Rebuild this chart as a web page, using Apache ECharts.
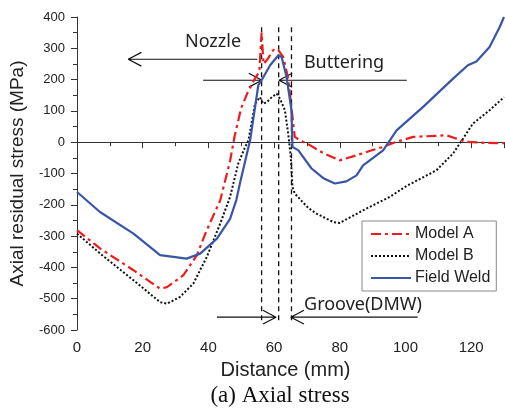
<!DOCTYPE html>
<html><head><meta charset="utf-8">
<script src="https://cdn.jsdelivr.net/npm/echarts@6/dist/echarts.min.js"></script>
<style>html,body{margin:0;padding:0;background:#fff}#c{width:505px;height:414px}</style>
</head><body><div id="c"></div>
<script>
// ---- data ----
const seriesNames = ['Model A', 'Model B', 'Field Weld'];

const modelA_x = [0, 7.1, 17.2, 25.3, 27.4, 32.4, 36.5, 39.5, 43.6, 46.6, 48, 50, 52, 54, 55.5, 56.2, 56.8, 58, 60, 61.3, 62.8, 64.3, 65.3, 66.3, 68, 70, 75, 80, 85, 90, 93.2, 97, 102.3, 112.5, 118.5, 124, 130];
const modelA_y = [-281, -340, -409, -468, -463, -425, -361, -281, -186, -60, 20, 110, 160, 200, 225, 350, 250, 265, 298, 294, 272, 203, 110, 17, 5, -4, -35, -58, -42, -25, -15, 0, 17, 22, 1, -2, -3];

const modelB_x = [0, 7.1, 17.2, 25.3, 27.4, 31.4, 35.4, 39.5, 43.6, 46.6, 49.1, 51.2, 52.2, 54.2, 55.7, 56.7, 57.8, 59.3, 60.8, 61.8, 63.3, 64.3, 65.1, 65.6, 66.3, 70.4, 72.9, 78, 80, 88.1, 95.2, 100.3, 109.4, 114.5, 117.5, 120.5, 125.6, 130];
const modelB_y = [-292, -356, -441, -511, -516, -494, -452, -367, -260, -175, -68, -15, 6, 123, 144, 123, 128, 144, 155, 139, 102, 27, -47, -143, -164, -210, -228, -255, -258, -212, -175, -140, -90, -36, 11, 59, 102, 144];

const field_x = [0, 7, 17.2, 25.3, 33.4, 37.5, 42.6, 46.6, 48.5, 49.7, 52.7, 55.2, 56.2, 58.8, 61.3, 62.3, 63.8, 65.3, 65.6, 67.4, 71.4, 75, 78.5, 82, 85.1, 87.1, 93.2, 97.3, 105.3, 114.5, 119, 121.6, 125.6, 128.7, 130];
const field_y = [-159, -223, -292, -361, -372, -356, -308, -245, -185, -127, 6, 182, 198, 246, 278, 272, 208, 102, -15, -26, -84, -115, -132, -125, -106, -74, -26, 38, 112, 203, 246, 258, 304, 368, 400];

// region boundaries (dashed verticals)
const grooveX = [56.2, 61.4, 65.3];
const grooveYRange = [367, -578];

// annotation arrows: tail x, tip x, y
const arrowTail = [54.9, 38.4, 100.4, 42.6, 103.7];
const arrowTip  = [15.6, 56.3, 61.5, 60.6, 65.1];
const arrowY    = [265, 198, 198, -559, -559];

const xRange = [0, 130];
const yRange = [-600, 400];

// ---- build ----
function pairs(xs, ys) { return xs.map((x, i) => [x, ys[i]]); }

const series = [];
grooveX.forEach((gx, i) => {
  series.push({
    type: 'line', name: 'g' + i, silent: true, symbol: 'none', z: 1,
    data: [[gx, grooveYRange[0]], [gx, grooveYRange[1]]],
    lineStyle: { color: '#111', width: 1.3, type: [5, 4] }
  });
});
const headDx = 4, headDy = 22;
arrowTail.forEach((t, i) => {
  const tip = arrowTip[i], y = arrowY[i];
  const dir = tip > t ? 1 : -1;
  series.push({
    type: 'line', name: 'a' + i, silent: true, symbol: 'none', z: 1,
    data: [[t, y], [tip, y], [tip - dir * headDx, y + headDy], [tip, y], [tip - dir * headDx, y - headDy]],
    lineStyle: { color: '#111', width: 1.2 }
  });
});
series.push({
  type: 'line', name: seriesNames[0], symbol: 'none', z: 3,
  data: pairs(modelA_x, modelA_y),
  lineStyle: { color: '#ee1c1c', width: 2.2, type: [10, 4, 3, 4] },
  itemStyle: { color: '#ee1c1c' }
});
series.push({
  type: 'line', name: seriesNames[1], symbol: 'none', z: 3,
  data: pairs(modelB_x, modelB_y),
  lineStyle: { color: '#111', width: 2, type: [2, 2] },
  itemStyle: { color: '#111' }
});
series.push({
  type: 'line', name: seriesNames[2], symbol: 'none', z: 4,
  data: pairs(field_x, field_y),
  lineStyle: { color: '#3955a6', width: 2.2 },
  itemStyle: { color: '#3955a6' }
});

const chart = echarts.init(document.getElementById('c'), null, { renderer: 'canvas' });
chart.setOption({
  animation: false,
  backgroundColor: '#fff',
  grid: { left: 76, right: 1, top: 17, bottom: 84, containLabel: false },
  legend: {
    data: seriesNames, orient: 'vertical', left: 362, top: 221,
    padding: [5, 6, 5, 8], itemGap: 6, itemWidth: 40, itemHeight: 14,
    backgroundColor: '#fff', borderColor: '#888', borderWidth: 1, borderRadius: 0,
    itemStyle: { opacity: 0, borderWidth: 0 },
    textStyle: { fontFamily: 'Liberation Sans, Arial', fontSize: 16, color: '#222', padding: [0, 0, 0, -1] },
    selectedMode: false
  },
  xAxis: {
    type: 'value', min: xRange[0], max: xRange[1], interval: 20,
    name: 'Distance (mm)', nameLocation: 'middle', nameGap: 30,
    nameTextStyle: { fontFamily: 'Liberation Sans, Arial', fontSize: 20, color: '#222', padding: [0, 10, 0, 0] },
    axisLine: { lineStyle: { color: '#333', width: 1 } },
    axisTick: { inside: false, length: 6, lineStyle: { color: '#333' } },
    minorTick: { show: true, splitNumber: 2, length: 4, lineStyle: { color: '#333' } },
    axisLabel: { fontFamily: 'Liberation Sans, Arial', fontSize: 15, color: '#222', margin: 10, showMaxLabel: false },
    splitLine: { show: false }
  },
  yAxis: {
    type: 'value', min: yRange[0], max: yRange[1], interval: 100,
    name: 'Axial residual stress (MPa)', nameLocation: 'middle', nameGap: 50,
    nameTextStyle: { fontFamily: 'Liberation Sans, Arial', fontSize: 19, color: '#222' },
    axisLine: { show: true, lineStyle: { color: '#333', width: 1 } },
    axisTick: { show: true, inside: false, length: 6, lineStyle: { color: '#333' } },
    minorTick: { show: true, splitNumber: 2, length: 4, lineStyle: { color: '#333' } },
    axisLabel: { fontFamily: 'Liberation Sans, Arial', fontSize: 13, color: '#222', margin: 12 },
    splitLine: { show: false }
  },
  graphic: [
    { type: 'text', x: 213, y: 42, style: { text: 'Nozzle', font: '18px "Noto Sans"', fill: '#222', align: 'center', verticalAlign: 'middle' } },
    { type: 'text', x: 344, y: 63, style: { text: 'Buttering', font: '18px "Noto Sans"', fill: '#222', align: 'center', verticalAlign: 'middle' } },
    { type: 'text', x: 363, y: 305, style: { text: 'Groove(DMW)', font: '18px "Noto Sans"', fill: '#222', align: 'center', verticalAlign: 'middle' } },
    { type: 'text', x: 280, y: 396, style: { text: '(a) Axial stress', font: '23px "Liberation Serif"', fill: '#111', align: 'center', verticalAlign: 'middle' } }
  ],
  series: series
});
</script></body></html>
